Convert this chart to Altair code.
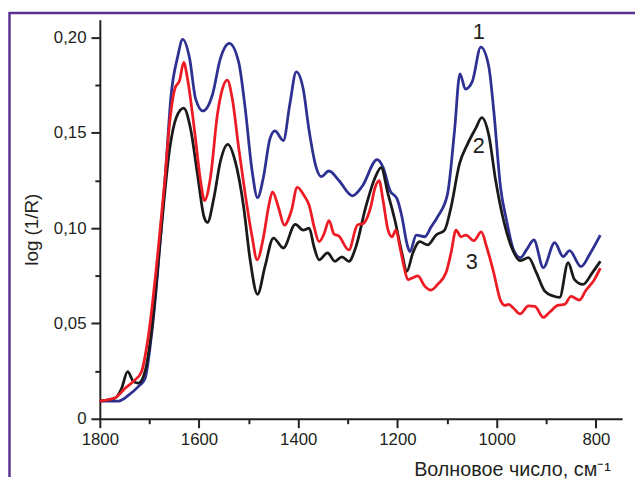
import altair as alt
import pandas as pd

# ---- data (wavenumber, cm-1 / log(1/R)) ----
wn1 = [1800, 1762, 1742, 1722, 1709, 1696, 1686, 1676, 1666, 1657, 1643, 1633, 1619, 1607,
       1592, 1573, 1557, 1539, 1520, 1507, 1493, 1482, 1470, 1457, 1447, 1430, 1417, 1404,
       1390, 1378, 1364, 1354, 1338, 1318, 1291, 1271, 1241, 1229, 1215, 1201, 1191, 1181,
       1175, 1162, 1145, 1132, 1119, 1099, 1085, 1074, 1063, 1049, 1032, 1016, 1006, 992,
       980, 966, 952, 940, 925, 906, 883, 866, 853, 830, 811, 791]
s1 = [0.0093, 0.0093, 0.0124, 0.017, 0.021, 0.0435, 0.069, 0.100, 0.135, 0.168, 0.190, 0.199,
      0.189, 0.168, 0.1615, 0.170, 0.189, 0.197, 0.187, 0.163, 0.130, 0.116, 0.127, 0.147,
      0.151, 0.146, 0.165, 0.182, 0.173, 0.151, 0.132, 0.127, 0.130, 0.125, 0.117, 0.122,
      0.136, 0.132, 0.1197, 0.1155, 0.106, 0.092, 0.0877, 0.0964, 0.0955, 0.1007, 0.106, 0.118,
      0.151, 0.181, 0.173, 0.177, 0.195, 0.185, 0.162, 0.121, 0.104, 0.0886, 0.0845, 0.0886,
      0.0938, 0.0793, 0.0924, 0.0851, 0.0882, 0.0798, 0.087, 0.0964]

wn2 = [1800, 1769, 1756, 1744, 1732, 1722, 1709, 1696, 1676, 1659, 1646, 1631, 1617, 1603,
       1590, 1583, 1570, 1557, 1542, 1527, 1510, 1497, 1482, 1467, 1450, 1430, 1406, 1390,
       1378, 1368, 1358, 1341, 1326, 1312, 1298, 1284, 1264, 1245, 1233, 1219, 1205, 1191,
       1181, 1169, 1155, 1139, 1122, 1105, 1092, 1075, 1059, 1042, 1030, 1016, 1002, 986,
       970, 953, 936, 920, 903, 886, 873, 856, 843, 826, 807, 791]
s2 = [0.0093, 0.0109, 0.016, 0.0247, 0.0195, 0.0187, 0.0247, 0.0455, 0.100, 0.142, 0.158,
      0.163, 0.152, 0.128, 0.106, 0.103, 0.116, 0.135, 0.144, 0.135, 0.111, 0.0834, 0.0653,
      0.080, 0.0948, 0.0896, 0.102, 0.099, 0.100, 0.090, 0.0834, 0.087, 0.0826, 0.085, 0.0826,
      0.090, 0.111, 0.1266, 0.1318, 0.118, 0.104, 0.087, 0.0774, 0.087, 0.0929, 0.0912, 0.0964,
      0.099, 0.111, 0.1337, 0.144, 0.1525, 0.158, 0.149, 0.125, 0.104, 0.090, 0.083, 0.0845,
      0.0767, 0.067, 0.0644, 0.0637, 0.0819, 0.073, 0.0705, 0.0767, 0.0826]

wn3 = [1800, 1769, 1749, 1729, 1716, 1702, 1683, 1669, 1659, 1649, 1639, 1631, 1623, 1609,
       1597, 1589, 1577, 1563, 1553, 1543, 1533, 1520, 1507, 1493, 1483, 1470, 1460, 1452,
       1440, 1428, 1414, 1402, 1388, 1378, 1368, 1358, 1348, 1338, 1328, 1318, 1298, 1281,
       1268, 1254, 1245, 1237, 1229, 1219, 1211, 1203, 1195, 1187, 1179, 1169, 1159, 1145,
       1133, 1119, 1102, 1092, 1082, 1072, 1062, 1046, 1031, 1020, 1006, 992, 983, 976, 966,
       953, 936, 923, 906, 893, 876, 863, 850, 833, 821, 803, 791]
s3 = [0.0093, 0.011, 0.016, 0.0204, 0.0247, 0.0437, 0.087, 0.125, 0.156, 0.173, 0.1777, 0.187,
      0.178, 0.151, 0.125, 0.1145, 0.1266, 0.1596, 0.173, 0.1777, 0.168, 0.142, 0.118, 0.0955,
      0.0834, 0.0955, 0.111, 0.119, 0.111, 0.1016, 0.109, 0.1214, 0.117, 0.112, 0.1007, 0.0929,
      0.097, 0.104, 0.097, 0.0958, 0.0886, 0.1016, 0.1026, 0.111, 0.1214, 0.125, 0.1145, 0.099,
      0.0955, 0.099, 0.090, 0.080, 0.073, 0.074, 0.075, 0.0696, 0.0675, 0.0705, 0.0767, 0.087,
      0.099, 0.0955, 0.0964, 0.0934, 0.098, 0.090, 0.0767, 0.062, 0.0595, 0.060, 0.058, 0.055,
      0.0592, 0.059, 0.0532, 0.056, 0.0596, 0.060, 0.0642, 0.0623, 0.067, 0.073, 0.079]

series_names = ["1", "2", "3"]
series_colors = ["#2e3192", "#1a1a1a", "#ed1c24"]

label_text = ["1", "2", "3"]
label_wn = [1036, 1036, 1050]
label_val = [0.203, 0.143, 0.0824]

x_major = [1800, 1600, 1400, 1200, 1000, 800]
x_minor = [1700, 1500, 1300, 1100, 900]
y_major = [0, 0.05, 0.10, 0.15, 0.20]
y_minor = [0.025, 0.075, 0.125, 0.175]

rows = []
for name, xs, ys in zip(series_names, [wn1, wn2, wn3], [s1, s2, s3]):
    for i, (a, b) in enumerate(zip(xs, ys)):
        rows.append({"wn": a, "val": b, "series": name, "i": i})
df = pd.DataFrame(rows)
labels_df = pd.DataFrame({"wn": label_wn, "val": label_val, "t": label_text})

FONT = "Liberation Sans"
AX = "#231f20"
PURPLE = "#5b3291"

xscale = alt.Scale(domain=[747, 1800], reverse=True, nice=False, zero=False)
yscale = alt.Scale(domain=[0, 0.2093], nice=False, zero=False)

x_axis_main = alt.Axis(
    orient="bottom", values=x_major, format="d", grid=False,
    tickSize=9, tickWidth=2, tickColor=AX, domainWidth=2, domainColor=AX,
    labelFont=FONT, labelFontSize=17, labelColor=AX, labelPadding=4,
    labelFlush=False, labelOverlap=False,
    title="Волновое число, см⁻¹", titleFont=FONT, titleFontSize=20,
    titleFontWeight="normal", titleColor=AX, titleAlign="right",
    titleBaseline="alphabetic", titleX=517, titleY=57,
)
y_axis_main = alt.Axis(
    orient="left", values=y_major, grid=False,
    labelExpr="datum.value == 0 ? '0' : replace(format(datum.value, '.2f'), '.', ',')",
    tickSize=9, tickWidth=2, tickColor=AX, domainWidth=2, domainColor=AX,
    labelFont=FONT, labelFontSize=17, labelColor=AX, labelPadding=5,
    labelFlush=False, labelOverlap=False,
    title="log (1/R)", titleFont=FONT, titleFontSize=19, titleFontWeight="normal",
    titleColor=AX, titleAngle=270, titleAlign="center", titleBaseline="bottom",
    titleX=-59, titleY=212,
)
x_axis_minor = alt.Axis(
    orient="bottom", values=x_minor, grid=False, labels=False, domain=False,
    tickSize=5, tickWidth=2, tickColor=AX, title=None,
)
y_axis_minor = alt.Axis(
    orient="left", values=y_minor, grid=False, labels=False, domain=False,
    tickSize=5, tickWidth=2, tickColor=AX, title=None,
)

lines = alt.Chart(df).mark_line(strokeWidth=2.8, interpolate="monotone").encode(
    x=alt.X("wn:Q", scale=xscale, axis=x_axis_main),
    y=alt.Y("val:Q", scale=yscale, axis=y_axis_main),
    color=alt.Color("series:N", scale=alt.Scale(domain=series_names, range=series_colors), legend=None),
    detail="series:N",
)

labels = alt.Chart(labels_df).mark_text(font=FONT, fontSize=22, color=AX, align="center", baseline="middle").encode(
    x=alt.X("wn:Q", scale=xscale, axis=x_axis_minor),
    y=alt.Y("val:Q", scale=yscale, axis=y_axis_minor),
    text="t:N",
)

one = pd.DataFrame({"a": [0]})
border_top = alt.Chart(one).mark_rule(color=PURPLE, strokeWidth=2.5).encode(
    x=alt.value(-92), x2=alt.value(542), y=alt.value(-7)
)
border_left = alt.Chart(one).mark_rule(color=PURPLE, strokeWidth=2.5).encode(
    x=alt.value(-91.5), y=alt.value(-8), y2=alt.value(463)
)

chart = alt.layer(border_top, border_left, lines, labels).resolve_axis(
    x="independent", y="independent"
).properties(
    width=529, height=404,
    autosize=alt.AutoSizeParams(type="none"),
    padding={"left": 93, "top": 9, "right": 13, "bottom": 59},
    background="white",
).configure_view(stroke=None)

chart.save("out.html", embed_options={"renderer": "svg", "actions": False})
